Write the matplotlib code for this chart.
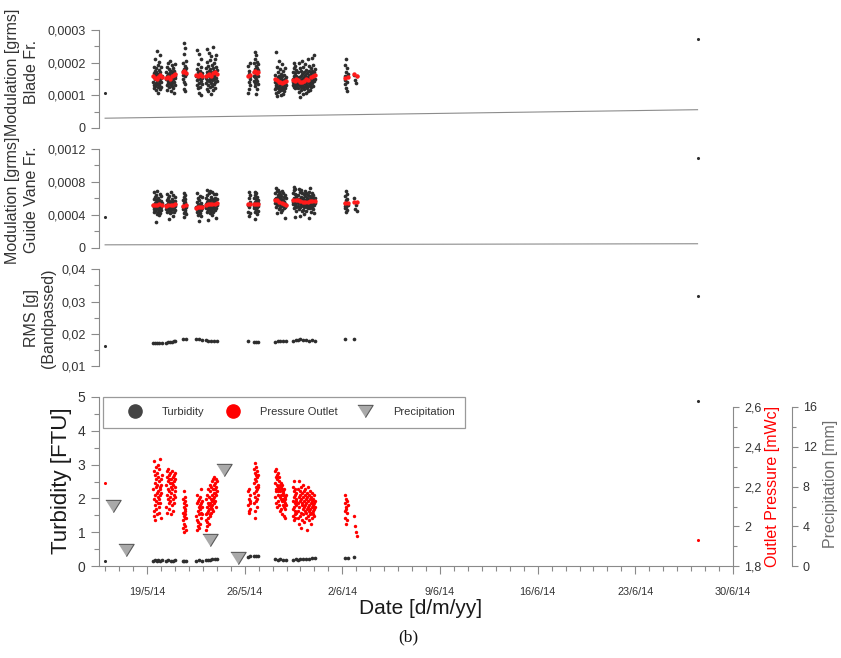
import numpy as np
import matplotlib
matplotlib.use("Agg")
import matplotlib.pyplot as plt
import matplotlib.dates as mdates
from matplotlib.lines import Line2D
from matplotlib.ticker import MultipleLocator, FuncFormatter

plt.rcParams['font.family'] = ['Liberation Sans', 'DejaVu Sans']

# ---------------------------------------------------------------- data
# measurement campaigns (start / end of each block of records)
cluster_start = ["2014-05-19T11:00", "2014-05-20T09:00", "2014-05-21T14:00",
                 "2014-05-22T13:00", "2014-05-23T05:00", "2014-05-26T06:00",
                 "2014-05-26T16:00", "2014-05-28T04:00", "2014-05-29T11:00",
                 "2014-05-29T19:00", "2014-06-02T04:00", "2014-06-02T20:00"]
cluster_end = ["2014-05-20T01:00", "2014-05-21T01:00", "2014-05-21T19:00",
               "2014-05-22T23:00", "2014-05-24T00:00", "2014-05-26T10:00",
               "2014-05-26T23:00", "2014-05-28T23:00", "2014-05-29T17:00",
               "2014-05-31T01:00", "2014-06-02T09:00", "2014-06-03T01:00"]

# isolated records before / after the campaigns
first_time = "2014-05-16T00:00"
last_time = "2014-06-27T11:00"

# blade-frequency modulation [micro grms]
blade_mod = [
    [142, 168, 121, 187, 155, 133, 176, 149, 210, 128, 161, 139, 183, 117, 152, 171, 236, 135, 158, 146,
     192, 124, 165, 108, 150, 179, 137, 162, 201, 131, 156, 144, 225, 119, 170, 153, 140, 188, 127, 160],
    [150, 172, 131, 188, 159, 117, 166, 143, 198, 137, 154, 181, 124, 163, 147, 205, 135, 170, 152, 112,
     176, 145, 161, 128, 193, 156, 139, 168, 121, 184, 149, 162, 107, 174, 141, 158, 196, 133, 165, 153],
    [175, 150, 198, 163, 259, 141, 182, 168, 226, 119, 190, 158, 172, 245, 136, 179, 112, 205, 166, 185],
    [158, 133, 182, 147, 240, 121, 170, 155, 196, 139, 108, 165, 228, 150, 176, 127, 161, 211, 143, 187,
     102, 168, 152, 135],
    [160, 138, 185, 152, 243, 120, 172, 147, 201, 131, 166, 112, 190, 158, 229, 143, 175, 126, 162, 208,
     149, 181, 104, 168, 137, 219, 155, 193, 128, 171, 146, 247, 163, 116, 184, 151, 198, 134, 176, 159,
     212, 141, 169, 122, 188, 154, 222, 165, 179, 145],
    [190, 108, 165, 142, 176, 120, 158, 198, 150, 133],
    [172, 145, 198, 160, 232, 128, 181, 155, 210, 139, 176, 103, 190, 166, 222, 150, 184, 118, 169, 203,
     143, 178, 160, 134, 195],
    [140, 118, 162, 132, 233, 107, 151, 126, 188, 145, 98, 137, 172, 121, 155, 110, 143, 205, 129, 160,
     114, 147, 180, 123, 138, 101, 166, 134, 152, 116, 195, 142, 125, 158, 105, 148, 131, 176, 119, 144,
     135, 163, 112, 150, 128, 184, 139, 121, 156, 133],
    [150, 131, 172, 142, 198, 125, 160, 146, 185, 137, 155, 121, 168, 149, 190, 134, 158, 141, 177, 128],
    [145, 122, 170, 136, 198, 110, 156, 131, 183, 148, 95, 140, 175, 127, 160, 115, 150, 205, 133, 166,
     104, 142, 188, 124, 155, 138, 172, 118, 149, 196, 130, 161, 108, 146, 179, 135, 157, 121, 168, 143,
     211, 128, 152, 113, 174, 139, 163, 190, 132, 158, 117, 150, 184, 141, 169, 126, 160, 215, 137, 176,
     148, 130, 193, 155, 171, 144, 222, 162, 180, 151],
    [160, 135, 192, 148, 210, 122, 170, 155, 112, 183, 142, 165],
    [162, 148, 138, 158],
]
blade_mean = [
    [158, 154, 150, 157, 162, 155], [152, 156, 150, 160, 163, 166], [170, 174, 168],
    [162, 158, 165, 160], [158, 162, 166, 160, 169, 172, 165], [160, 163],
    [170, 174, 168, 172], [150, 146, 142, 140, 138, 141, 144], [148, 145, 150],
    [146, 142, 140, 145, 150, 148, 155, 158, 162], [152, 156], [165, 160],
]
blade_first, blade_last = 108, 272
blade_trend = [30, 56]

# guide-vane-frequency modulation [micro grms]
vane_mod = [
    [520, 465, 590, 498, 672, 430, 545, 505, 618, 452, 530, 310, 575, 488, 640, 470, 555, 415, 512, 695,
     480, 560, 440, 528, 603, 462, 538, 392, 585, 495, 650, 475, 548, 425, 515, 630, 458, 570, 500, 540],
    [515, 470, 580, 492, 655, 440, 540, 505, 610, 455, 525, 350, 568, 485, 632, 462, 548, 418, 510, 680,
     478, 555, 435, 522, 598, 468, 535, 380, 572, 498, 645, 472, 543, 428, 518, 620, 455, 562, 502, 530],
    [510, 465, 575, 490, 670, 420, 540, 498, 615, 370, 528, 455, 590, 480, 645, 440, 552, 405, 520, 500],
    [490, 440, 560, 470, 665, 395, 520, 478, 600, 330, 505, 452, 575, 462, 630, 420, 535, 380, 498, 545,
     455, 612, 485, 510],
    [530, 480, 600, 505, 700, 440, 555, 515, 640, 462, 540, 340, 585, 495, 665, 470, 565, 420, 525, 690,
     488, 575, 445, 535, 620, 475, 548, 395, 595, 508, 675, 478, 558, 432, 522, 648, 468, 580, 510, 545,
     610, 455, 570, 498, 655, 365, 538, 485, 592, 520],
    [520, 440, 610, 385, 675, 495, 560, 420, 640, 530],
    [530, 480, 605, 505, 675, 430, 555, 515, 640, 350, 540, 470, 590, 495, 660, 455, 565, 410, 525, 620,
     490, 575, 445, 548, 512],
    [590, 540, 660, 565, 725, 500, 610, 575, 690, 520, 595, 420, 640, 555, 705, 530, 620, 470, 580, 680,
     545, 615, 490, 570, 650, 525, 590, 440, 625, 548, 695, 515, 575, 460, 540, 660, 505, 585, 530, 555,
     620, 480, 560, 510, 640, 360, 530, 495, 600, 520],
    [585, 530, 660, 560, 735, 480, 610, 570, 700, 370, 595, 515, 650, 545, 715, 500, 620, 450, 580, 640],
    [565, 510, 640, 540, 715, 470, 590, 550, 680, 495, 575, 380, 620, 530, 700, 505, 600, 445, 560, 670,
     520, 605, 460, 555, 650, 500, 580, 415, 625, 540, 690, 510, 585, 450, 550, 660, 495, 610, 535, 570,
     640, 480, 595, 525, 675, 365, 560, 505, 630, 545, 725, 485, 590, 520, 615, 440, 575, 530, 665, 500,
     600, 470, 555, 645, 515, 580, 425, 565, 610, 540],
    [540, 480, 625, 510, 695, 430, 575, 500, 650, 455, 590, 520],
    [600, 470, 520, 445],
]
vane_mean = [
    [515, 525, 520, 530, 522], [512, 520, 525, 518, 528], [505, 515], [480, 492, 500, 495],
    [520, 530, 535, 528, 532, 538], [530, 535], [528, 535, 530], [585, 575, 560, 545, 530, 520],
    [580, 585], [575, 565, 558, 552, 560, 568, 572, 565], [540, 548], [560, 555],
]
vane_first, vane_last = 370, 1094
vane_trend = [35, 48]

# band-passed RMS acceleration [g]
rms_vals = [
    [0.0171, 0.0170, 0.0172, 0.0171, 0.0170], [0.0172, 0.0174, 0.0176, 0.0175, 0.0178, 0.0179],
    [0.0183, 0.0184], [0.0184, 0.0183, 0.0182], [0.0180, 0.0179, 0.0178, 0.0179, 0.0178],
    [0.0178], [0.0176, 0.0175, 0.0176], [0.0176, 0.0177, 0.0178, 0.0177, 0.0178],
    [0.0179, 0.0180], [0.0182, 0.0184, 0.0181, 0.0180, 0.0179, 0.0180, 0.0179],
    [0.0185], [0.0185],
]
rms_first, rms_last = 0.0163, 0.0318

# turbidity [FTU]
turbidity = [
    [0.17, 0.18, 0.17, 0.18, 0.17, 0.18], [0.17, 0.18, 0.17, 0.17, 0.18], [0.16, 0.17, 0.16],
    [0.17, 0.18, 0.17], [0.19, 0.20, 0.20, 0.21, 0.22, 0.22], [0.28, 0.29], [0.29, 0.30, 0.29],
    [0.21, 0.20, 0.21, 0.20, 0.20], [0.20, 0.21], [0.20, 0.21, 0.21, 0.22, 0.22, 0.23, 0.23],
    [0.23, 0.25], [0.26],
]
turb_first, turb_last = 0.16, 4.88

# outlet pressure [cm water column]
pressure = [
    [219, 208, 228, 214, 233, 205, 222, 211, 226, 216, 203, 224, 213, 230, 209, 220, 217, 227, 206, 221,
     215, 231, 212, 218, 225, 207, 223, 214, 229, 210, 220, 216, 234, 212, 219, 224, 204, 221, 217, 226],
    [221, 210, 228, 216, 225, 207, 223, 214, 229, 219, 212, 226, 218, 224, 209, 222, 215, 227, 213, 220,
     206, 224, 217, 228, 211, 222, 219, 225, 214, 221, 208, 226, 216, 223, 212, 227, 218, 220, 215, 224],
    [207, 199, 214, 203, 218, 201, 210, 205, 212, 197, 208, 204, 215, 200, 209, 206, 213, 198, 211, 204],
    [205, 198, 212, 203, 216, 200, 208, 213, 202, 210, 199, 214, 206, 211, 201, 209, 215, 204, 212, 207,
     219, 210, 206, 213],
    [206, 198, 214, 203, 210, 200, 216, 207, 202, 212, 208, 219, 204, 211, 201, 215, 209, 206, 218, 212,
     205, 221, 210, 214, 207, 220, 213, 209, 223, 216, 211, 219, 214, 208, 224, 217, 212, 221, 215, 225,
     219, 213, 222, 217, 210, 224, 220, 216, 223, 218],
    [211, 218, 208, 214, 219, 207, 213, 216, 209, 212],
    [222, 212, 229, 217, 232, 208, 224, 215, 227, 204, 220, 226, 213, 230, 218, 223, 210, 225, 219, 228,
     214, 221, 216, 226, 220],
    [222, 215, 228, 219, 229, 212, 225, 218, 226, 210, 221, 224, 216, 227, 213, 220, 218, 223, 211, 219,
     225, 215, 221, 208, 218, 222, 214, 220, 216, 209, 219, 213, 221, 206, 217, 211, 218, 214, 216, 205,
     213, 219, 210, 215, 212, 204, 214, 209, 216, 211],
    [213, 205, 220, 209, 223, 203, 215, 210, 218, 206, 212, 216, 204, 219, 208, 214, 211, 217, 207, 213],
    [212, 204, 219, 208, 223, 201, 215, 210, 218, 205, 213, 216, 199, 220, 207, 214, 211, 217, 203, 212,
     209, 221, 206, 215, 210, 218, 202, 213, 208, 216, 211, 219, 204, 214, 207, 212, 198, 217, 209, 215,
     205, 220, 210, 213, 203, 216, 208, 211, 214, 206, 218, 209, 212, 201, 215, 207, 213, 210, 217, 204,
     211, 208, 214, 206, 212, 209, 216, 205, 210, 213],
    [216, 208, 212, 204, 210, 214, 201, 209, 207, 213, 203, 211],
    [205, 200, 197, 195],
]
press_first, press_last = 222, 193

# daily precipitation [mm]
precip_dates = ["2014-05-16T13:00", "2014-05-17T12:00", "2014-05-23T12:00",
                "2014-05-24T12:00", "2014-05-25T12:00"]
precip_mm = [6.1, 1.6, 2.6, 9.7, 0.8]

x_limits = ["2014-05-15T14:00", "2014-06-30T00:00"]

# ---------------------------------------------------------------- helpers
W, H = 841, 658
DARK = '#2e2e2e'
SPINE = '#8a8a8a'
TXT = '#333333'


def box(x0, y_top, x1, y_bot):
    return [x0 / W, 1 - y_bot / H, (x1 - x0) / W, (y_bot - y_top) / H]


def dnum(s):
    return mdates.date2num(np.datetime64(s))


def block_times(k, n):
    return np.linspace(dnum(cluster_start[k]), dnum(cluster_end[k]), n)


def flat(groups, scale=1.0):
    xs, ys = [], []
    for k, g in enumerate(groups):
        xs.append(block_times(k, len(g)))
        ys.append(np.asarray(g, float) * scale)
    return np.concatenate(xs), np.concatenate(ys)


def comma(v, pos):
    return f"{v:g}".replace('.', ',')


def dfmt(x, pos):
    d = mdates.num2date(x)
    return f"{d.day}/{d.month}/{d:%y}"


def style_left(ax, major, minor):
    ax.yaxis.set_major_locator(MultipleLocator(major))
    ax.yaxis.set_minor_locator(MultipleLocator(minor))
    ax.yaxis.set_major_formatter(FuncFormatter(comma))
    ax.tick_params(axis='y', which='major', length=6, width=0.8, color=SPINE,
                   labelsize=9, labelcolor=TXT, pad=4)
    ax.tick_params(axis='y', which='minor', length=3.5, width=0.8, color=SPINE)
    ax.spines['left'].set_color(SPINE)
    ax.spines['left'].set_linewidth(0.8)


xlo, xhi = dnum(x_limits[0]), dnum(x_limits[1])
t_first, t_last = dnum(first_time), dnum(last_time)

fig = plt.figure(figsize=(W / 100, H / 100), dpi=100)

# ---------------------------------------------------------------- upper panels
upper = [
    (box(99.3, 30, 733, 128), blade_mod, blade_mean, blade_first, blade_last, blade_trend,
     (0, 0.0003), 0.0001, 0.00005),
    (box(99.3, 149, 733, 247.7), vane_mod, vane_mean, vane_first, vane_last, vane_trend,
     (0, 0.0012), 0.0004, 0.0002),
]
axes_upper = []
for rect, vals, means, v0, v1, trend, ylim, maj, mnr in upper:
    ax = fig.add_axes(rect)
    ax.plot([t_first, t_last], np.array(trend) * 1e-6, color='#8c8c8c', lw=0.8, zorder=1)
    bx, by = flat(vals, 1e-6)
    ax.scatter(bx, by, s=7, color=DARK, linewidths=0, zorder=2)
    ax.scatter([t_first, t_last], np.array([v0, v1]) * 1e-6, s=5, color=DARK, linewidths=0, zorder=2)
    mx, my = flat(means, 1e-6)
    ax.scatter(mx, my, s=10, color='#ff1a1a', linewidths=0, zorder=3)
    ax.set_ylim(*ylim)
    style_left(ax, maj, mnr)
    axes_upper.append(ax)

ax3 = fig.add_axes(box(99.3, 269.3, 733, 366))
rx, ry = flat(rms_vals)
ax3.scatter(rx, ry, s=7, color=DARK, linewidths=0)
ax3.scatter([t_first, t_last], [rms_first, rms_last], s=5, color=DARK, linewidths=0)
ax3.set_ylim(0.01, 0.04)
style_left(ax3, 0.01, 0.005)
axes_upper.append(ax3)

for ax in axes_upper:
    ax.set_xlim(xlo, xhi)
    for s in ('top', 'right', 'bottom'):
        ax.spines[s].set_visible(False)
    ax.tick_params(axis='x', which='both', bottom=False, labelbottom=False)
    ax.patch.set_alpha(0)

# ---------------------------------------------------------------- bottom panel
axb = fig.add_axes(box(99.3, 396.7, 733, 566.3))
tx, ty = flat(turbidity)
axb.scatter(tx, ty, s=7, color=DARK, linewidths=0, zorder=2)
axb.scatter([t_first, t_last], [turb_first, turb_last], s=5, color=DARK, linewidths=0, zorder=2)
axb.set_xlim(xlo, xhi)
axb.set_ylim(0, 5)
style_left(axb, 1, 0.5)
axb.tick_params(axis='y', labelsize=10)
axb.spines['top'].set_visible(False)
axb.spines['right'].set_visible(False)
axb.spines['bottom'].set_color(SPINE)
axb.spines['bottom'].set_linewidth(0.8)
axb.xaxis.set_major_locator(mdates.WeekdayLocator(byweekday=mdates.MO))
axb.xaxis.set_minor_locator(mdates.DayLocator())
axb.xaxis.set_major_formatter(FuncFormatter(dfmt))
axb.tick_params(axis='x', which='major', length=6, width=0.8, color=SPINE,
                labelsize=7.8, labelcolor=TXT, pad=9)
axb.tick_params(axis='x', which='minor', length=3.5, width=0.8, color=SPINE)

span_frac = (566.3 - 396.7) / (566.7 - 407.3)

# outlet pressure on the first right axis
axp = axb.twinx()
px, py = flat(pressure, 0.01)
axp.scatter(px, py, s=6, color='#ff0000', linewidths=0, zorder=2)
axp.scatter([t_first, t_last], [press_first * 0.01, press_last * 0.01], s=5,
            color='#ff0000', linewidths=0)
axp.set_ylim(1.8, 1.8 + 0.8 * span_frac)
axp.spines['right'].set_bounds(1.8, 2.6)

# precipitation on the second right axis
axr = axb.twinx()
axr.spines['right'].set_position(('axes', 1 + 58.7 / 633.7))
tri = [(-1, 0.8), (1, 0.8), (0, -0.8)]
axr.plot([dnum(d) for d in precip_dates], precip_mm, ls='none', marker=tri, ms=11,
         mfc='#a9a9a9', mec='#5a5a5a', mew=0.8, zorder=4)
axr.set_ylim(0, 16 * span_frac)
axr.spines['right'].set_bounds(0, 16)

for ax, maj, mnr in ((axp, 0.2, 0.1), (axr, 4, 2)):
    for s in ('top', 'left', 'bottom'):
        ax.spines[s].set_visible(False)
    ax.spines['right'].set_color(SPINE)
    ax.spines['right'].set_linewidth(0.8)
    ax.yaxis.set_major_locator(MultipleLocator(maj))
    ax.yaxis.set_minor_locator(MultipleLocator(mnr))
    ax.yaxis.set_major_formatter(FuncFormatter(comma))
    ax.tick_params(axis='y', which='major', length=4, width=0.8, color=SPINE,
                   labelsize=9, labelcolor=TXT, pad=4)
    ax.tick_params(axis='y', which='minor', length=3, width=0.8, color=SPINE)
axp.set_yticks(np.arange(1.8, 2.61, 0.2))
axr.set_yticks(np.arange(0, 16.1, 4))

handles = [
    Line2D([], [], ls='none', marker='o', ms=9.5, mfc='#444444', mec='#444444'),
    Line2D([], [], ls='none', marker='o', ms=9.5, mfc='#ff0000', mec='#ff0000'),
    Line2D([], [], ls='none', marker=tri, ms=11, mfc='#a9a9a9', mec='#5a5a5a', mew=0.8),
]
leg = axr.legend(handles, ['Turbidity', 'Pressure Outlet', 'Precipitation'], ncol=3,
                 loc='upper left', bbox_to_anchor=(0.006, 0.5, 0.571, 0.5), mode='expand',
                 borderaxespad=0, fontsize=8, handlelength=3.8, handletextpad=0.55,
                 borderpad=0.95, fancybox=False, framealpha=1, labelcolor=TXT)
leg.get_frame().set_edgecolor('#9a9a9a')
leg.get_frame().set_linewidth(0.9)

# ---------------------------------------------------------------- labels
def ftext(x, y, s, **kw):
    fig.text(x / W, 1 - y / H, s, ha='center', va='center', **kw)


ftext(22, 72, "Modulation [grms]\nBlade Fr.", rotation=90, fontsize=11.5, color=TXT,
      multialignment='center', linespacing=1.25)
ftext(22, 200, "Modulation [grms]\nGuide Vane Fr.", rotation=90, fontsize=11.5, color=TXT,
      multialignment='center', linespacing=1.25)
ftext(40, 318, "RMS [g]\n(Bandpassed)", rotation=90, fontsize=11.5, color=TXT,
      multialignment='center', linespacing=1.15)
ftext(61, 481, "Turbidity [FTU]", rotation=90, fontsize=16, color='#1a1a1a')
ftext(773, 486, "Outlet Pressure [mWc]", rotation=90, fontsize=11.5, color='#ff0000')
ftext(830, 484, "Precipitation [mm]", rotation=90, fontsize=11.5, color='#6e6e6e')
ftext(421, 608, "Date [d/m/yy]", fontsize=15, color='#1a1a1a')
ftext(408, 637, "(b)", fontsize=12.5, color='#111111',
      family=['Liberation Serif', 'DejaVu Serif'])

fig.savefig('out.png', dpi=100)
